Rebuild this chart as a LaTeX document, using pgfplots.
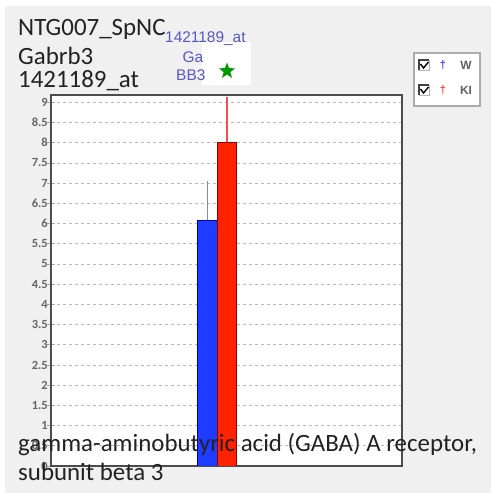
\documentclass[border=0pt]{standalone}
\usepackage{pgfplots}
\pgfplotsset{compat=1.18}
\usetikzlibrary{shapes.geometric}
\usepackage{fontspec}
\setmainfont{Carlito}
\newfontfamily\arialf{Liberation Sans}
\definecolor{bgc}{HTML}{F0F0F0}
\definecolor{bluelab}{HTML}{5858C8}
\definecolor{barblue}{HTML}{1E3CFF}
\definecolor{barred}{HTML}{FF2200}
\definecolor{txt}{HTML}{222222}
\definecolor{errblue}{HTML}{8080F4}
\definecolor{errred}{HTML}{F05050}
\begin{document}
\begin{tikzpicture}[x=1bp,y=1bp]
\fill[white] (0,0) rectangle (491,493);
\fill[bgc] (5,0) rectangle (491,487);
\begin{axis}[
  at={(51bp,27bp)}, anchor=south west,
  width=351bp, height=371bp, scale only axis,
  xmin=0, xmax=351, ymin=0, ymax=9.18,
  axis background/.style={fill=white},
  axis line style={draw=black!70, line width=1.5pt},
  xtick=\empty,
  ytick={0,0.5,...,9},
  yticklabels={0,0.5,1,1.5,2,2.5,3,3.5,4,4.5,5,5.5,6,6.5,7,7.5,8,8.5,9},
  tick pos=left,
  tick align=center,
  major tick length=8bp,
  tick style={draw=gray!70, line width=0.6pt},
  yticklabel style={font=\fontsize{12.5}{13}\selectfont\bfseries, text=gray!80!black, inner sep=1bp, xshift=2bp},
  ymajorgrids,
  major grid style={draw=gray!55, dash pattern=on 3bp off 3bp, line width=0.6pt},
  ybar, bar shift=0pt, bar width=19.5,
]
\addplot[fill=barblue, draw=blue!60!black, line width=0.6pt,
  error bars/.cd, y dir=plus, y explicit, error mark=none,
  error bar style={draw=errblue, line width=1.3pt}]
  coordinates {(156.5,6.09) +- (0,0.96)};
\addplot[fill=barred, draw=red!55!black, line width=0.6pt,
  error bars/.cd, y dir=plus, y explicit, error mark=none,
  error bar style={draw=errred, line width=1.2pt}]
  coordinates {(176,8.02) +- (0,1.11)};
\end{axis}
% top-left title
\node[anchor=base west, inner sep=0, text=txt, font=\fontsize{25}{28}\selectfont] at (18,457) {NTG007\_SpNC};
\node[anchor=base west, inner sep=0, text=txt, font=\fontsize{25}{28}\selectfont] at (18,428) {Gabrb3};
\node[anchor=base west, inner sep=0, text=txt, font=\fontsize{25}{28}\selectfont] at (18,405) {1421189\_at};
% probe label and star box
\fill[white] (202,408) rectangle (251,451);
\node[anchor=base west, inner sep=0, text=bluelab, font=\arialf\fontsize{15.5}{18}\selectfont] at (165,450) {1421189\_at};
\node[anchor=base, inner sep=0, text=bluelab, font=\arialf\fontsize{15.5}{18}\selectfont] at (193,430) {Ga};
\node[anchor=base west, inner sep=0, text=bluelab, font=\arialf\fontsize{15.5}{18}\selectfont] at (176,412) {BB3};
\node[star, star points=5, star point ratio=2.4, fill=green!60!black, inner sep=0, minimum size=17bp] at (227,422) {};
% legend box
\draw[fill=white, draw=gray!65, line width=1.3pt] (414,387) rectangle (480,440);
\foreach \yy/\cc/\lab in {428/blue/W, 403/red/KI}{
  \draw[gray!60, line width=0.6pt] (419,\yy-5) rectangle (429,\yy+5);
  \draw[black!75, line width=1.2pt] (419,\yy-5) -- (419,\yy+5) -- (429,\yy+5);
  \draw[black, line width=1.4pt] (420.5,\yy+1) -- (423.5,\yy-3) -- (428.5,\yy+3);
  \node[inner sep=0, text=\cc!75!white, font=\arialf\fontsize{11}{12}\selectfont\bfseries] at (443,\yy) {\textdagger};
  \node[inner sep=0, text=gray!75!black, font=\arialf\fontsize{12}{13}\selectfont\bfseries] at (466,\yy) {\lab};
}
% caption
\node[anchor=base west, inner sep=0, text=txt, font=\fontsize{25}{28}\selectfont] at (18,41) {gamma-aminobutyric acid (GABA) A receptor,};
\node[anchor=base west, inner sep=0, text=txt, font=\fontsize{25}{28}\selectfont] at (18,12) {subunit beta 3};
\end{tikzpicture}
\end{document}
